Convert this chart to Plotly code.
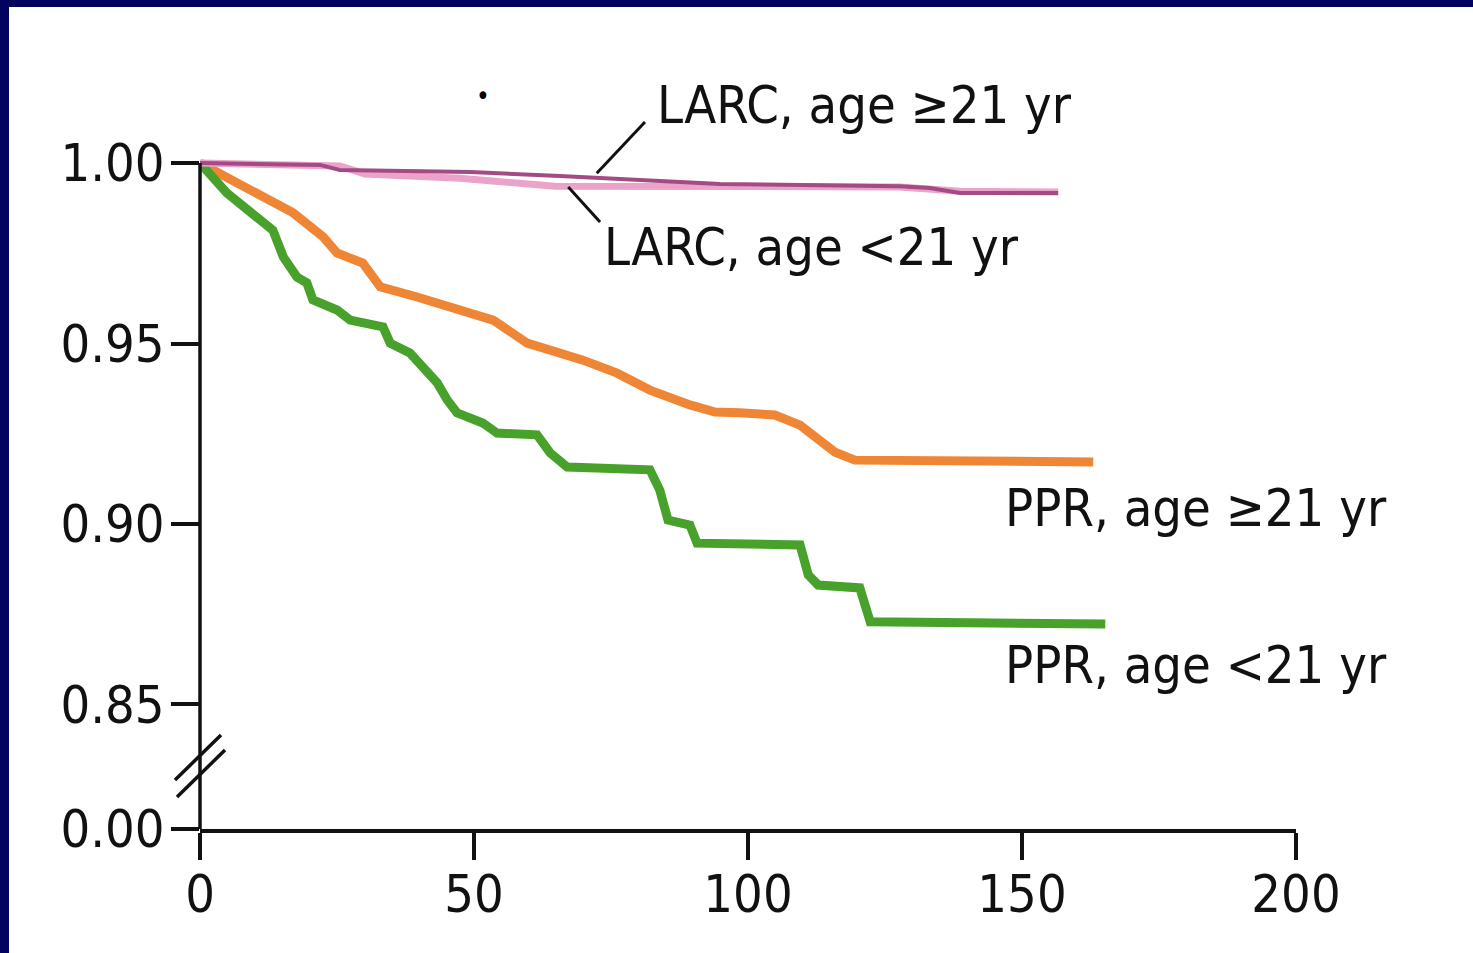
import plotly.graph_objects as go

# ---------------- data ----------------
x_ticks = [0, 50, 100, 150, 200]
x_tick_labels = ["0", "50", "100", "150", "200"]
y_ticks = [1.00, 0.95, 0.90, 0.85]
y_tick_labels = ["1.00", "0.95", "0.90", "0.85"]
y_zero_label = "0.00"

larc_ge21_t = [0, 21.9, 25.5, 49.3, 65.7, 80.3, 94.9, 127.7, 133.2, 138.7, 156.6]
larc_ge21_s = [1.0, 0.9995, 0.9981, 0.9975, 0.9964, 0.9953, 0.9942, 0.9936, 0.9931, 0.9917, 0.9917]

larc_lt21_t = [0, 25.5, 30.1, 47.4, 64.8, 127.7, 138.7, 156.6]
larc_lt21_s = [1.0, 0.9992, 0.9970, 0.9958, 0.9936, 0.9934, 0.9922, 0.9920]

ppr_ge21_t = [0, 6.0, 17.0, 22.5, 25.0, 29.7, 32.9, 39.6, 45.6, 53.5, 59.7, 69.9, 76.1,
              82.1, 89.4, 94.0, 98.5, 104.9, 109.5, 113.1, 115.9, 119.5, 163.0]
ppr_ge21_s = [1.0, 0.9953, 0.9862, 0.9795, 0.9751, 0.9723, 0.9657, 0.9629, 0.9601, 0.9565,
              0.9501, 0.9454, 0.9418, 0.9371, 0.9330, 0.9310, 0.9308, 0.9302, 0.9274, 0.9233,
              0.9199, 0.9177, 0.9172]

ppr_lt21_t = [0, 4.9, 11.0, 13.3, 15.2, 17.7, 19.5, 20.6, 25.0, 27.4, 33.4, 34.7, 38.3,
              41.4, 43.3, 45.1, 46.9, 51.6, 54.2, 61.5, 63.9, 67.0, 82.1, 83.9, 85.4, 89.4,
              90.7, 109.5, 111.0, 112.8, 120.4, 122.3, 165.2]
ppr_lt21_s = [1.0, 0.9917, 0.9842, 0.9814, 0.9740, 0.9684, 0.9668, 0.9621, 0.9593, 0.9565,
              0.9546, 0.9501, 0.9474, 0.9427, 0.9391, 0.9344, 0.9308, 0.9280, 0.9252, 0.9247,
              0.9197, 0.9158, 0.9150, 0.9094, 0.9011, 0.8997, 0.8947, 0.8942, 0.8859, 0.8831,
              0.8823, 0.8729, 0.8723]

label_larc_ge21 = "LARC, age ≥21 yr"
label_larc_lt21 = "LARC, age <21 yr"
label_ppr_ge21 = "PPR, age ≥21 yr"
label_ppr_lt21 = "PPR, age <21 yr"

# ---------------- layout constants ----------------
W, H = 1473, 953
L, R, T, B = 200, 1296, 40, 829          # plot area in pixels
Y_LO, Y_HI = 0.8155, 1.0341               # y range (bottom = broken "0.00" position)
X_LO, X_HI = 0, 200

FONT = "DejaVu Sans Condensed, Liberation Sans Narrow, Roboto Condensed, DejaVu Sans, sans-serif"
NAVY = "#02025f"
INK = "#111111"
AXW = 3.5


def px_x(p):
    return (p - L) / (R - L)


def px_y(p):
    return (B - p) / (B - T)


def yfrac(v):
    return (v - Y_LO) / (Y_HI - Y_LO)


fig = go.Figure()

fig.add_trace(go.Scatter(x=ppr_ge21_t, y=ppr_ge21_s, mode="lines",
                         line=dict(color="#ef8636", width=9), showlegend=False))
fig.add_trace(go.Scatter(x=ppr_lt21_t, y=ppr_lt21_s, mode="lines",
                         line=dict(color="#47a12a", width=9), showlegend=False))
fig.add_trace(go.Scatter(x=larc_lt21_t, y=larc_lt21_s, mode="lines",
                         line=dict(color="#eba3c9", width=7), showlegend=False))
fig.add_trace(go.Scatter(x=larc_ge21_t, y=larc_ge21_s, mode="lines",
                         line=dict(color="#a44a84", width=4), showlegend=False))

shapes = []
# navy frame (left and top)
shapes.append(dict(type="rect", xref="paper", yref="paper", x0=px_x(0), x1=px_x(9),
                   y0=px_y(H), y1=px_y(0), fillcolor=NAVY, line_width=0, layer="above"))
shapes.append(dict(type="rect", xref="paper", yref="paper", x0=px_x(0), x1=px_x(W),
                   y0=px_y(7), y1=px_y(0), fillcolor=NAVY, line_width=0, layer="above"))
# y axis line from the bottom up to 1.00
shapes.append(dict(type="line", xref="paper", yref="paper", x0=0, x1=0,
                   y0=0, y1=yfrac(1.0), line=dict(color=INK, width=AXW), layer="above"))
# axis break marks
shapes.append(dict(type="line", xref="paper", yref="paper", x0=px_x(175), y0=px_y(780),
                   x1=px_x(221), y1=px_y(735), line=dict(color=INK, width=3.5), layer="above"))
shapes.append(dict(type="line", xref="paper", yref="paper", x0=px_x(177), y0=px_y(797),
                   x1=px_x(225), y1=px_y(750), line=dict(color=INK, width=3.5), layer="above"))
# label pointer lines
shapes.append(dict(type="line", xref="x", yref="y", x0=72.4, y0=0.9972, x1=81.2, y1=1.0114,
                   line=dict(color=INK, width=3)))
shapes.append(dict(type="line", xref="x", yref="y", x0=67.2, y0=0.9934, x1=73.0, y1=0.9837,
                   line=dict(color=INK, width=3)))

annotations = [
    dict(x=83.0, y=1.0161, text=label_larc_ge21, xanchor="left", yanchor="middle"),
    dict(x=73.4, y=0.9767, text=label_larc_lt21, xanchor="left", yanchor="middle"),
    dict(x=146.5, y=0.9044, text=label_ppr_ge21, xanchor="left", yanchor="middle"),
    dict(x=146.5, y=0.8609, text=label_ppr_lt21, xanchor="left", yanchor="middle"),
]
for a in annotations:
    a.update(xref="x", yref="y", showarrow=False, font=dict(family=FONT, size=52, color=INK))
annotations.append(dict(x=51.6, y=1.0186, xref="x", yref="y", text="•", showarrow=False,
                        font=dict(family=FONT, size=26, color="#000")))

fig.update_layout(
    width=W, height=H, autosize=False,
    margin=dict(l=L, r=W - R, t=T, b=H - B, pad=0),
    paper_bgcolor="white", plot_bgcolor="white",
    font=dict(family=FONT, size=50, color=INK),
    shapes=shapes, annotations=annotations,
    showlegend=False,
)
fig.update_xaxes(range=[X_LO, X_HI], showgrid=False, zeroline=False,
                 showline=True, linecolor=INK, linewidth=AXW,
                 ticks="outside", ticklen=27, tickwidth=AXW, tickcolor=INK,
                 tickvals=x_ticks, ticktext=x_tick_labels, ticklabelstandoff=-10,
                 tickfont=dict(family=FONT, size=52, color=INK))
fig.update_yaxes(range=[Y_LO, Y_HI], showgrid=False, zeroline=False, showline=False,
                 ticks="outside", ticklen=28, tickwidth=AXW, tickcolor=INK,
                 tickvals=y_ticks + [Y_LO], ticktext=y_tick_labels + [y_zero_label],
                 ticklabelstandoff=-4,
                 tickfont=dict(family=FONT, size=52, color=INK))

fig.write_html("out.html")
